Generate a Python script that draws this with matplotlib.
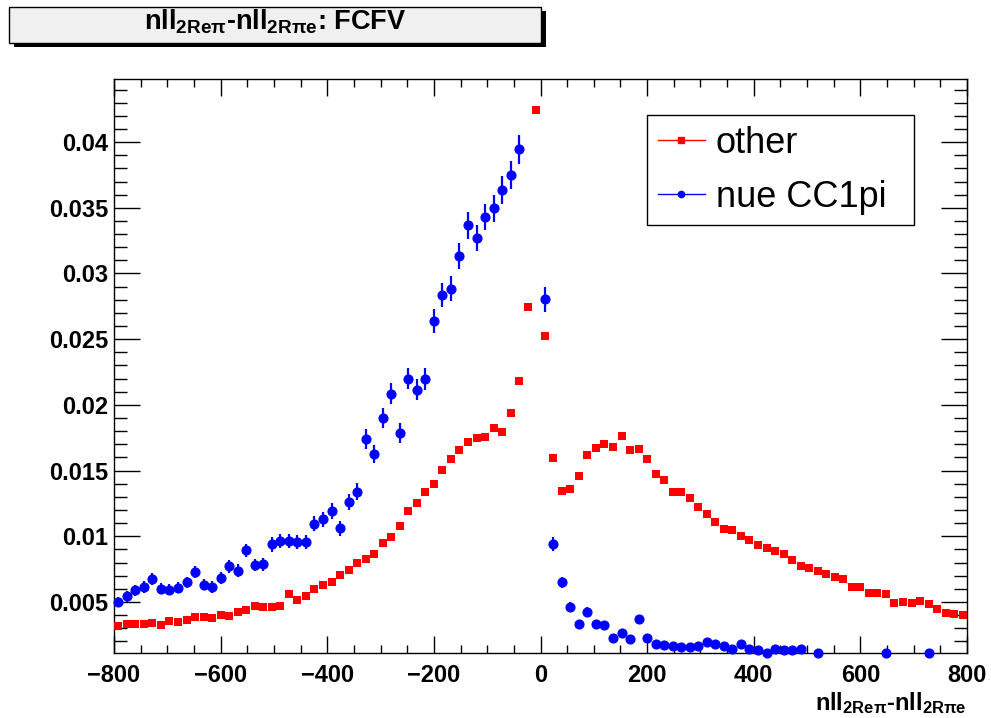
import numpy as np
import matplotlib
matplotlib.use("Agg")
import matplotlib.pyplot as plt
from matplotlib.lines import Line2D
from matplotlib.patches import Rectangle
from matplotlib.ticker import MultipleLocator

plt.rcParams['font.family'] = ['Liberation Sans', 'DejaVu Sans']
plt.rcParams['mathtext.fontset'] = 'custom'
plt.rcParams['mathtext.rm'] = 'Liberation Sans'
plt.rcParams['mathtext.bf'] = 'Liberation Sans:bold'
plt.rcParams['mathtext.it'] = 'Liberation Sans:italic'

# histogram: 100 bins from -800 to 800
bin_edges = np.linspace(-800, 800, 101)
bin_centers = 0.5 * (bin_edges[:-1] + bin_edges[1:])

other = [
    0.00314, 0.00333, 0.00330, 0.00333, 0.00340, 0.00325, 0.00352, 0.00345, 0.00365, 0.00383,
    0.00388, 0.00378, 0.00401, 0.00391, 0.00424, 0.00441, 0.00472, 0.00464, 0.00464, 0.00472,
    0.00563, 0.00518, 0.00548, 0.00603, 0.00630, 0.00655, 0.00703, 0.00746, 0.00794, 0.00827,
    0.00862, 0.00951, 0.00995, 0.01075, 0.01193, 0.01250, 0.01337, 0.01400, 0.01507, 0.01588,
    0.01654, 0.01715, 0.01745, 0.01756, 0.01821, 0.01791, 0.01935, 0.02184, 0.02742, 0.04244,
    0.02524, 0.01596, 0.01345, 0.01360, 0.01461, 0.01621, 0.01674, 0.01699, 0.01682, 0.01766,
    0.01659, 0.01664, 0.01591, 0.01474, 0.01425, 0.01334, 0.01334, 0.01288, 0.01220, 0.01170,
    0.01111, 0.01058, 0.01050, 0.00999, 0.00974, 0.00931, 0.00911, 0.00885, 0.00865, 0.00822,
    0.00771, 0.00759, 0.00738, 0.00713, 0.00693, 0.00677, 0.00614, 0.00617, 0.00571, 0.00568,
    0.00563, 0.00489, 0.00502, 0.00492, 0.00505, 0.00487, 0.00447, 0.00416, 0.00409, 0.00398,
]

nan = np.nan
nue_cc1pi = [
    0.00500, 0.00543, 0.00588, 0.00614, 0.00677, 0.00601, 0.00594, 0.00609, 0.00649, 0.00728,
    0.00632, 0.00614, 0.00685, 0.00771, 0.00738, 0.00893, 0.00782, 0.00789, 0.00938, 0.00966,
    0.00966, 0.00957, 0.00957, 0.01096, 0.01129, 0.01195, 0.01060, 0.01261, 0.01340, 0.01740,
    0.01626, 0.01903, 0.02085, 0.01788, 0.02200, 0.02116, 0.02197, 0.02638, 0.02836, 0.02884,
    0.03135, 0.03366, 0.03272, 0.03430, 0.03498, 0.03635, 0.03750, 0.03947, nan, nan,
    0.02803, 0.00944, 0.00649, 0.00462, 0.00330, 0.00428, 0.00335, 0.00325, 0.00223, 0.00264,
    0.00218, 0.00371, 0.00226, 0.00177, 0.00175, 0.00165, 0.00155, 0.00157, 0.00165, 0.00193,
    0.00183, 0.00163, 0.00142, 0.00180, 0.00142, 0.00132, 0.00115, 0.00142, 0.00137, 0.00132,
    0.00142, nan, 0.00115, nan, nan, nan, nan, nan, nan, nan,
    0.00115, nan, nan, nan, nan, 0.00115, nan, nan, nan, nan,
]

nue_cc1pi_err = [
    0.00039, 0.00041, 0.00042, 0.00043, 0.00046, 0.00043, 0.00042, 0.00043, 0.00045, 0.00047,
    0.00044, 0.00043, 0.00046, 0.00049, 0.00048, 0.00052, 0.00049, 0.00049, 0.00054, 0.00054,
    0.00054, 0.00054, 0.00054, 0.00058, 0.00059, 0.00061, 0.00057, 0.00062, 0.00064, 0.00073,
    0.00071, 0.00076, 0.00080, 0.00074, 0.00082, 0.00081, 0.00082, 0.00090, 0.00093, 0.00094,
    0.00098, 0.00102, 0.00100, 0.00102, 0.00103, 0.00106, 0.00107, 0.00110, nan, nan,
    0.00093, 0.00054, 0.00045, 0.00037, 0.00032, 0.00036, 0.00032, 0.00032, 0.00026, 0.00028,
    0.00026, 0.00034, 0.00026, 0.00023, 0.00023, 0.00022, 0.00022, 0.00022, 0.00023, 0.00024,
    0.00023, 0.00022, 0.00021, 0.00023, 0.00021, 0.00020, 0.00018, 0.00021, 0.00021, 0.00020,
    0.00021, nan, 0.00018, nan, nan, nan, nan, nan, nan, nan,
    0.00018, nan, nan, nan, nan, 0.00018, nan, nan, nan, nan,
]

W, H = 991, 718
fig = plt.figure(figsize=(W / 100, H / 100), dpi=100)
ax = fig.add_axes([114 / W, 1 - 653.3 / H, (967 - 114) / W, (653.3 - 79) / H])

ax.errorbar(bin_centers, nue_cc1pi, yerr=nue_cc1pi_err, fmt='o', color='blue',
            ms=6.3, elinewidth=1.6, capsize=0, clip_on=False, zorder=3)
ax.plot(bin_centers, other, 's', color='red', ms=6.0, mew=0, clip_on=False, zorder=4)

ax.set_xlim(-800, 800)
ax.set_ylim(0.0011, 0.0448)

ax.xaxis.set_major_locator(MultipleLocator(200))
ax.xaxis.set_minor_locator(MultipleLocator(50))
ax.yaxis.set_minor_locator(MultipleLocator(0.001))
ax.set_yticks([0.005, 0.01, 0.015, 0.02, 0.025, 0.03, 0.035, 0.04])
ax.set_yticklabels(['0.005', '0.01', '0.015', '0.02', '0.025', '0.03', '0.035', '0.04'])

ax.tick_params(which='both', direction='in', top=True, right=True, color='black', width=1)
ax.tick_params(axis='x', which='major', length=12, pad=8)
ax.tick_params(axis='x', which='minor', length=6)
ax.tick_params(axis='y', which='major', length=19, pad=4)
ax.tick_params(axis='y', which='minor', length=9.5)
for lab in ax.get_xticklabels() + ax.get_yticklabels():
    lab.set_fontsize(17)
    lab.set_fontweight('bold')
for sp in ax.spines.values():
    sp.set_linewidth(1.0)
    sp.set_color('black')

# x axis title
fig.text(967 / W, 2 / H, r'nll$_{\mathbf{2Re\pi}}$-nll$_{\mathbf{2R\pi e}}$',
         ha='right', va='bottom', fontsize=17, fontweight='bold')

# legend
handles = [Line2D([], [], color='red', marker='s', ms=4.5, lw=1.0),
           Line2D([], [], color='blue', marker='o', ms=4.5, lw=1.0)]
leg_x0 = (647 - 114) / 853
leg_y0 = (653.3 - 222) / 574.3
leg_w = (914 - 647) / 853
leg_h = (222 - 115) / 574.3
ax.legend(handles, ['other', 'nue CC1pi'], loc='upper left', mode='expand',
          bbox_to_anchor=(leg_x0, leg_y0, leg_w, leg_h),
          fontsize=26, frameon=True, fancybox=False, framealpha=1,
          edgecolor='black', borderpad=0.3, handlelength=1.3,
          handletextpad=0.3, labelspacing=0.52, borderaxespad=0)
ax.get_legend().get_frame().set_linewidth(1.0)

# title box with shadow
fig.add_artist(Rectangle((14 / W, 1 - 47 / H), (546 - 14) / W, (47 - 11) / H,
                         transform=fig.transFigure, facecolor='black', edgecolor='none'))
fig.add_artist(Rectangle((9 / W, 1 - 43 / H), (541 - 9) / W, (43 - 7) / H,
                         transform=fig.transFigure, facecolor='#f0f0f0',
                         edgecolor='black', linewidth=1.0))
fig.text(275 / W, 1 - 30 / H, r'nll$_{\mathbf{2Re\pi}}$-nll$_{\mathbf{2R\pi e}}$: FCFV',
         ha='center', va='baseline', fontsize=19.5, fontweight='bold')

fig.savefig('out.png', dpi=100)
